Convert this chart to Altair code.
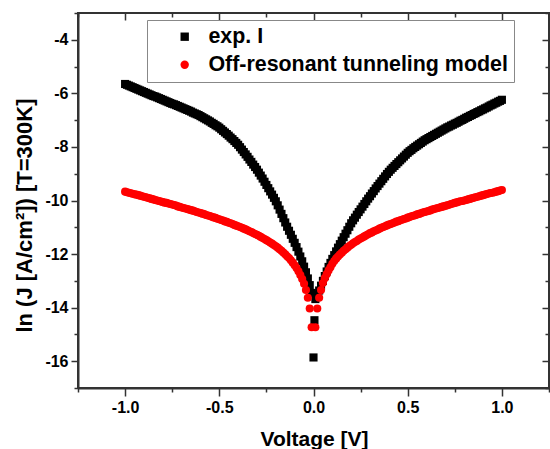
import altair as alt
import pandas as pd

# Bias sweep shared by the measurement and the model (V = 0 excluded)
v_grid = [
    -1.00, -0.99, -0.98, -0.97, -0.96, -0.95, -0.94, -0.93, -0.92, -0.91,
    -0.90, -0.89, -0.88, -0.87, -0.86, -0.85, -0.84, -0.83, -0.82, -0.81,
    -0.80, -0.79, -0.78, -0.77, -0.76, -0.75, -0.74, -0.73, -0.72, -0.71,
    -0.70, -0.69, -0.68, -0.67, -0.66, -0.65, -0.64, -0.63, -0.62, -0.61,
    -0.60, -0.59, -0.58, -0.57, -0.56, -0.55, -0.54, -0.53, -0.52, -0.51,
    -0.50, -0.49, -0.48, -0.47, -0.46, -0.45, -0.44, -0.43, -0.42, -0.41,
    -0.40, -0.39, -0.38, -0.37, -0.36, -0.35, -0.34, -0.33, -0.32, -0.31,
    -0.30, -0.29, -0.28, -0.27, -0.26, -0.25, -0.24, -0.23, -0.22, -0.21,
    -0.20, -0.19, -0.18, -0.17, -0.16, -0.15, -0.14, -0.13, -0.12, -0.11,
    -0.10, -0.09, -0.08, -0.07, -0.06, -0.05, -0.04, -0.03, -0.02, -0.01,
    0.01, 0.02, 0.03, 0.04, 0.05, 0.06, 0.07, 0.08, 0.09, 0.10,
    0.11, 0.12, 0.13, 0.14, 0.15, 0.16, 0.17, 0.18, 0.19, 0.20,
    0.21, 0.22, 0.23, 0.24, 0.25, 0.26, 0.27, 0.28, 0.29, 0.30,
    0.31, 0.32, 0.33, 0.34, 0.35, 0.36, 0.37, 0.38, 0.39, 0.40,
    0.41, 0.42, 0.43, 0.44, 0.45, 0.46, 0.47, 0.48, 0.49, 0.50,
    0.51, 0.52, 0.53, 0.54, 0.55, 0.56, 0.57, 0.58, 0.59, 0.60,
    0.61, 0.62, 0.63, 0.64, 0.65, 0.66, 0.67, 0.68, 0.69, 0.70,
    0.71, 0.72, 0.73, 0.74, 0.75, 0.76, 0.77, 0.78, 0.79, 0.80,
    0.81, 0.82, 0.83, 0.84, 0.85, 0.86, 0.87, 0.88, 0.89, 0.90,
    0.91, 0.92, 0.93, 0.94, 0.95, 0.96, 0.97, 0.98, 0.99, 1.00,
]

# Measured ln J on v_grid
lnj_exp = [
    -5.65, -5.68, -5.71, -5.74, -5.77, -5.80, -5.83, -5.86, -5.89, -5.92,
    -5.95, -5.98, -6.01, -6.04, -6.07, -6.10, -6.12, -6.15, -6.18, -6.21,
    -6.24, -6.27, -6.30, -6.33, -6.36, -6.39, -6.41, -6.44, -6.47, -6.50,
    -6.53, -6.56, -6.59, -6.62, -6.65, -6.68, -6.72, -6.75, -6.78, -6.81,
    -6.85, -6.89, -6.93, -6.97, -7.01, -7.05, -7.10, -7.14, -7.19, -7.23,
    -7.28, -7.34, -7.40, -7.46, -7.52, -7.58, -7.65, -7.71, -7.78, -7.85,
    -7.92, -8.01, -8.10, -8.19, -8.28, -8.37, -8.47, -8.56, -8.66, -8.75,
    -8.85, -8.96, -9.07, -9.18, -9.30, -9.42, -9.54, -9.66, -9.78, -9.90,
    -10.03, -10.18, -10.34, -10.50, -10.66, -10.82, -10.98, -11.13, -11.28, -11.43,
    -11.58, -11.74, -11.91, -12.09, -12.27, -12.47, -12.68, -12.91, -13.16, -13.45,
    -13.68, -13.52, -13.36, -13.18, -13.00, -12.82, -12.65, -12.48, -12.33, -12.18,
    -12.04, -11.90, -11.76, -11.63, -11.50, -11.37, -11.24, -11.11, -10.98, -10.85,
    -10.74, -10.64, -10.53, -10.43, -10.33, -10.23, -10.13, -10.03, -9.93, -9.84,
    -9.74, -9.65, -9.55, -9.46, -9.37, -9.28, -9.19, -9.10, -9.01, -8.93,
    -8.85, -8.78, -8.71, -8.64, -8.57, -8.50, -8.43, -8.36, -8.29, -8.22,
    -8.16, -8.11, -8.05, -8.00, -7.95, -7.90, -7.85, -7.80, -7.75, -7.71,
    -7.67, -7.63, -7.59, -7.55, -7.51, -7.47, -7.43, -7.39, -7.35, -7.31,
    -7.27, -7.24, -7.20, -7.17, -7.13, -7.10, -7.06, -7.02, -6.99, -6.95,
    -6.91, -6.88, -6.84, -6.81, -6.77, -6.74, -6.70, -6.67, -6.63, -6.60,
    -6.56, -6.53, -6.49, -6.45, -6.42, -6.38, -6.35, -6.31, -6.28, -6.24,
]

# Measured points at (and just above) zero bias
v_exp_zero = [0.0, 0.005]
lnj_exp_zero = [-15.86, -14.47]

# Off-resonant tunneling model on v_grid
lnj_model = [
    -9.67, -9.69, -9.71, -9.73, -9.75, -9.77, -9.78, -9.80, -9.82, -9.84,
    -9.86, -9.88, -9.90, -9.92, -9.94, -9.96, -9.98, -10.00, -10.02, -10.04,
    -10.06, -10.08, -10.09, -10.11, -10.13, -10.15, -10.17, -10.19, -10.22, -10.24,
    -10.26, -10.28, -10.30, -10.32, -10.34, -10.36, -10.38, -10.40, -10.43, -10.45,
    -10.47, -10.49, -10.51, -10.54, -10.56, -10.58, -10.61, -10.63, -10.65, -10.68,
    -10.70, -10.73, -10.75, -10.78, -10.80, -10.83, -10.85, -10.88, -10.91, -10.94,
    -10.96, -10.99, -11.02, -11.05, -11.08, -11.11, -11.15, -11.18, -11.21, -11.25,
    -11.28, -11.32, -11.36, -11.40, -11.44, -11.48, -11.52, -11.57, -11.61, -11.66,
    -11.71, -11.76, -11.82, -11.88, -11.94, -12.01, -12.08, -12.15, -12.23, -12.32,
    -12.42, -12.52, -12.64, -12.78, -12.93, -13.11, -13.34, -13.63, -14.03, -14.73,
    -14.73, -14.03, -13.63, -13.34, -13.08, -12.90, -12.75, -12.61, -12.49, -12.36,
    -12.26, -12.17, -12.09, -12.02, -11.95, -11.88, -11.82, -11.76, -11.70, -11.65,
    -11.60, -11.55, -11.51, -11.46, -11.42, -11.38, -11.34, -11.30, -11.26, -11.22,
    -11.19, -11.15, -11.12, -11.09, -11.05, -11.02, -10.99, -10.96, -10.93, -10.90,
    -10.88, -10.85, -10.82, -10.79, -10.77, -10.74, -10.72, -10.69, -10.67, -10.64,
    -10.62, -10.59, -10.57, -10.55, -10.52, -10.50, -10.48, -10.45, -10.43, -10.41,
    -10.39, -10.37, -10.34, -10.32, -10.30, -10.28, -10.26, -10.24, -10.22, -10.20,
    -10.18, -10.16, -10.13, -10.11, -10.09, -10.07, -10.05, -10.03, -10.02, -10.00,
    -9.98, -9.96, -9.94, -9.92, -9.90, -9.88, -9.86, -9.84, -9.82, -9.80,
    -9.78, -9.76, -9.74, -9.72, -9.71, -9.69, -9.67, -9.65, -9.63, -9.61,
]

SERIES = ["exp. I", "Off-resonant tunneling model"]
COLORS = ["#000000", "#ff0000"]
SHAPES = ["square", "circle"]

x_major = [-1.0, -0.5, 0.0, 0.5, 1.0]
x_minor = [-1.25, -0.75, -0.25, 0.25, 0.75, 1.25]
y_major = [-16, -14, -12, -10, -8, -6, -4]
y_minor = [-17, -15, -13, -11, -9, -7, -5, -3]

# Measurement rows first so the model points are drawn on top of them
df = pd.concat(
    [
        pd.DataFrame({"V": v_grid, "lnJ": lnj_exp, "series": SERIES[0]}),
        pd.DataFrame({"V": v_exp_zero, "lnJ": lnj_exp_zero, "series": SERIES[0]}),
        pd.DataFrame({"V": v_grid, "lnJ": lnj_model, "series": SERIES[1]}),
    ],
    ignore_index=True,
)

FONT = "Liberation Sans"
AXIS_COLOR = "#333333"
x_scale = alt.Scale(domain=[-1.25, 1.25], nice=False, zero=False)
y_scale = alt.Scale(domain=[-17, -3], nice=False, zero=False)

IS_MAJOR_X = "abs(datum.value * 2 - round(datum.value * 2)) < 0.001"
IS_MAJOR_Y = "abs(datum.value % 2) < 0.001"
MINUS = "\u2212"

x_axis = alt.Axis(
    values=sorted(x_major + x_minor),
    title="Voltage [V]",
    titleFontSize=21,
    titleX=236,
    titleY=57,
    titleBaseline="alphabetic",
    tickSize={"condition": {"test": IS_MAJOR_X, "value": 8}, "value": 4},
    labelExpr=f"{IS_MAJOR_X} ? replace(format(datum.value, '.1f'), '{MINUS}', '-') : ''",
    labelPadding=3,
    labelFlush=False,
    labelOverlap=False,
)
y_axis = alt.Axis(
    values=sorted(y_major + y_minor),
    title="ln (J [A/cm²]) [T=300K]",
    titleFontSize=22,
    titleX=-46.5,
    titleY=202,
    titleAngle=-90,
    titleAlign="center",
    titleBaseline="alphabetic",
    tickSize={"condition": {"test": IS_MAJOR_Y, "value": 7}, "value": 4},
    labelExpr=f"{IS_MAJOR_Y} ? replace(format(datum.value, 'd'), '{MINUS}', '-') : ''",
    labelPadding=3,
    labelFlush=False,
    labelOverlap=False,
)

legend = alt.Legend(
    title=None,
    orient="none",
    legendX=69,
    legendY=7,
    direction="vertical",
    strokeColor="#888888",
    fillColor="#ffffff",
    padding=6,
    symbolOffset=21,
    symbolSize=70,
    symbolStrokeWidth=0,
    labelOffset=13,
    labelLimit=600,
    labelFontSize=21.4,
    labelFont=FONT,
    labelFontWeight="bold",
    labelColor="#000000",
    rowPadding=5,
    labelExpr="datum.label + '   '",
)

points = (
    alt.Chart(df)
    .mark_point(filled=True, size=66, opacity=1)
    .encode(
        x=alt.X("V:Q", scale=x_scale, axis=x_axis),
        y=alt.Y("lnJ:Q", scale=y_scale, axis=y_axis),
        color=alt.Color("series:N", scale=alt.Scale(domain=SERIES, range=COLORS), legend=legend),
        shape=alt.Shape("series:N", scale=alt.Scale(domain=SERIES, range=SHAPES), legend=legend),
    )
)


def inner_ticks(x_vals, y_vals, size):
    """Top and right axes whose ticks point into the plot."""
    return (
        alt.Chart(df)
        .mark_point(opacity=0)
        .encode(
            x=alt.X(
                "V:Q",
                scale=x_scale,
                axis=alt.Axis(orient="top", values=x_vals, tickSize=size, offset=-size,
                              labels=False, domain=False, title=None),
            ),
            y=alt.Y(
                "lnJ:Q",
                scale=y_scale,
                axis=alt.Axis(orient="right", values=y_vals, tickSize=size, offset=-size,
                              labels=False, domain=False, title=None),
            ),
        )
    )


chart = (
    alt.layer(points, inner_ticks(x_major, y_major, 7), inner_ticks(x_minor, y_minor, 4))
    .resolve_axis(x="independent", y="independent")
    .properties(
        width=471,
        height=375,
        autosize=alt.AutoSizeParams(type="none"),
        padding={"left": 78, "top": 13, "right": 1, "bottom": 61},
    )
    .configure_view(stroke=AXIS_COLOR, strokeWidth=2)
    .configure_axis(
        grid=False,
        labelFont=FONT,
        labelFontWeight="bold",
        labelFontSize=16,
        labelColor="#000000",
        titleFont=FONT,
        titleFontWeight="bold",
        titleColor="#000000",
        domainColor=AXIS_COLOR,
        domainWidth=2,
        tickColor=AXIS_COLOR,
        tickWidth=1.5,
    )
)

chart.save("out.html", embed_options={"renderer": "svg", "actions": False})
